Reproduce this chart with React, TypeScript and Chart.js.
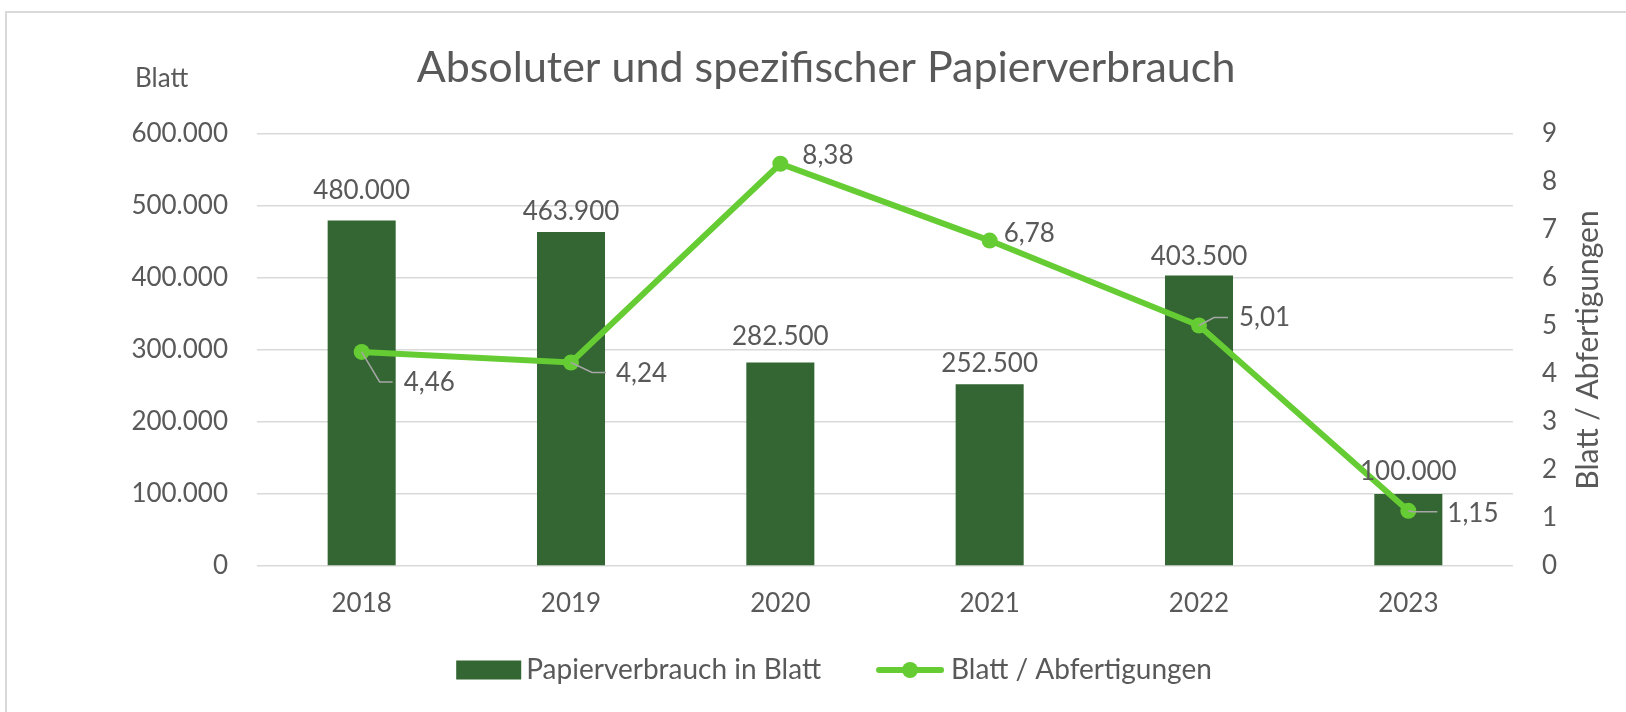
import React, { useEffect, useRef } from 'react';
import { Chart, registerables } from 'chart.js';

Chart.register(...registerables);

const categories = ['2018', '2019', '2020', '2021', '2022', '2023'];
const paperSheets = [480000, 463900, 282500, 252500, 403500, 100000];
const sheetsPerHandling = [4.46, 4.24, 8.38, 6.78, 5.01, 1.15];

const titleText = 'Absoluter und spezifischer Papierverbrauch';
const leftAxisLabel = 'Blatt';
const rightAxisLabel = 'Blatt / Abfertigungen';
const barSeriesName = 'Papierverbrauch in Blatt';
const lineSeriesName = 'Blatt / Abfertigungen';

const leftMax = 600000;
const leftStep = 100000;
const rightMax = 9;
const rightStep = 1;

// gap between bar top and its value label baseline (style only)
const barLabelGap = [21, 12, 18, 12, 10, 14];

// placement of the line-point labels relative to their point (style only)
const lineLabelPlacement = [
  { dx: 42, dy: 31, leader: [[18, 30], [31, 30]] },
  { dx: 45, dy: 11, leader: [[21, 10], [35, 10]] },
  { dx: 22, dy: -8, leader: null },
  { dx: 14, dy: -7, leader: null },
  { dx: 40, dy: -8, leader: [[15, -8], [29, -8]] },
  { dx: 39, dy: 3, leader: [[4, 1], [29, 1]] },
];

const TEXT = '#595959';
const GRID = '#D9D9D9';
const BAR = '#336633';
const LINE = '#66CC33';
const LEADER = '#A6A6A6';
const FONT = 'Lato';
const FS = 26;

const fmtThousands = (v: number) =>
  String(Math.round(v)).replace(/\B(?=(\d{3})+(?!\d))/g, '.');
const fmtDecimal = (v: number) => v.toFixed(2).replace('.', ',');

const decorPlugin = {
  id: 'decor',
  afterDraw(chart: any) {
    const ctx: CanvasRenderingContext2D = chart.ctx;
    const area = chart.chartArea;
    ctx.save();

    // outer frame
    ctx.strokeStyle = GRID;
    ctx.lineWidth = 2;
    ctx.strokeRect(6, 12, 1700, 800);

    // title
    ctx.fillStyle = TEXT;
    ctx.font = `43px ${FONT}`;
    ctx.textAlign = 'center';
    ctx.textBaseline = 'alphabetic';
    ctx.fillText(titleText, 826, 82);

    // left axis label
    ctx.font = `${FS}px ${FONT}`;
    ctx.textAlign = 'left';
    ctx.textBaseline = 'middle';
    ctx.fillText(leftAxisLabel, 135, 79);

    // right axis title (rotated, reading upward)
    ctx.save();
    ctx.font = `30px ${FONT}`;
    ctx.translate(1588, (area.top + area.bottom) / 2);
    ctx.rotate(-Math.PI / 2);
    ctx.textAlign = 'center';
    ctx.textBaseline = 'middle';
    ctx.fillText(rightAxisLabel, 0, 0);
    ctx.restore();

    // bar value labels
    ctx.font = `${FS}px ${FONT}`;
    const barMeta = chart.getDatasetMeta(0);
    ctx.textAlign = 'center';
    ctx.textBaseline = 'alphabetic';
    barMeta.data.forEach((el: any, i: number) => {
      ctx.fillText(fmtThousands(paperSheets[i]), el.x, el.y - barLabelGap[i]);
    });

    // line value labels with leader lines
    const lineMeta = chart.getDatasetMeta(1);
    lineMeta.data.forEach((el: any, i: number) => {
      const pl = lineLabelPlacement[i];
      if (pl.leader) {
        ctx.strokeStyle = LEADER;
        ctx.lineWidth = 1.5;
        ctx.beginPath();
        ctx.moveTo(el.x, el.y);
        pl.leader.forEach(([dx, dy]) => ctx.lineTo(el.x + dx, el.y + dy));
        ctx.stroke();
      }
      ctx.fillStyle = TEXT;
      ctx.textAlign = 'left';
      ctx.textBaseline = 'middle';
      ctx.fillText(fmtDecimal(sheetsPerHandling[i]), el.x + pl.dx, el.y + pl.dy);
    });

    // legend
    ctx.font = `28px ${FONT}`;
    const w1 = ctx.measureText(barSeriesName).width;
    const w2 = ctx.measureText(lineSeriesName).width;
    const boxW = 65, boxH = 19, gapA = 5, gapB = 55, lineW = 68, gapC = 7;
    const total = boxW + gapA + w1 + gapB + lineW + gapC + w2;
    let x = 834 - total / 2;
    const y = 670;
    ctx.fillStyle = BAR;
    ctx.fillRect(x, y - boxH / 2, boxW, boxH);
    x += boxW + gapA;
    ctx.fillStyle = TEXT;
    ctx.textAlign = 'left';
    ctx.textBaseline = 'middle';
    ctx.fillText(barSeriesName, x, y);
    x += w1 + gapB;
    ctx.strokeStyle = LINE;
    ctx.lineWidth = 6;
    ctx.lineCap = 'round';
    ctx.beginPath();
    ctx.moveTo(x + 3, y);
    ctx.lineTo(x + lineW - 3, y);
    ctx.stroke();
    ctx.fillStyle = LINE;
    ctx.beginPath();
    ctx.arc(x + lineW / 2, y, 8, 0, Math.PI * 2);
    ctx.fill();
    x += lineW + gapC;
    ctx.fillStyle = TEXT;
    ctx.fillText(lineSeriesName, x, y);

    ctx.restore();
  },
};

export default function App() {
  const ref = useRef<HTMLCanvasElement>(null);

  useEffect(() => {
    document.body.style.margin = '0';
    const tickFont = { family: FONT, size: FS };
    const chart = new Chart(ref.current as HTMLCanvasElement, {
      type: 'bar',
      data: {
        labels: categories,
        datasets: [
          {
            type: 'bar',
            label: barSeriesName,
            data: paperSheets,
            yAxisID: 'y',
            backgroundColor: BAR,
            barPercentage: 0.325,
            categoryPercentage: 1,
            order: 1,
          },
          {
            type: 'line',
            label: lineSeriesName,
            data: sheetsPerHandling,
            yAxisID: 'y1',
            borderColor: LINE,
            backgroundColor: LINE,
            borderWidth: 6,
            pointRadius: 8,
            pointBorderWidth: 0,
            pointBackgroundColor: LINE,
            pointBorderColor: LINE,
            tension: 0,
            order: 0,
          },
        ],
      } as any,
      options: {
        animation: false,
        responsive: false,
        devicePixelRatio: 1,
        layout: { padding: { top: 134, left: 0, right: 0, bottom: 0 } },
        plugins: {
          legend: { display: false },
          title: { display: false },
          tooltip: { enabled: false },
        },
        scales: {
          x: {
            offset: true,
            grid: { display: false, drawTicks: false },
            border: { display: false },
            ticks: { font: tickFont, color: TEXT, padding: 22 },
            afterFit(s: any) {
              s.height = 146;
            },
          },
          y: {
            position: 'left',
            min: 0,
            max: leftMax,
            ticks: {
              stepSize: leftStep,
              font: tickFont,
              color: TEXT,
              padding: 29,
              callback: (v: any) => fmtThousands(Number(v)),
            },
            grid: { color: GRID, lineWidth: 1.5, drawTicks: false },
            border: { display: false },
            afterFit(s: any) {
              s.width = 257;
            },
          },
          y1: {
            position: 'right',
            min: 0,
            max: rightMax,
            ticks: { stepSize: rightStep, font: tickFont, color: TEXT, padding: 29 },
            grid: { display: false, drawTicks: false },
            border: { display: false },
            afterFit(s: any) {
              s.width = 113;
            },
          },
        },
      } as any,
      plugins: [decorPlugin],
    });
    return () => chart.destroy();
  }, []);

  return (
    <div style={{ width: 1626, height: 712 }}>
      <canvas ref={ref} width={1626} height={712} style={{ display: 'block' }} />
    </div>
  );
}
